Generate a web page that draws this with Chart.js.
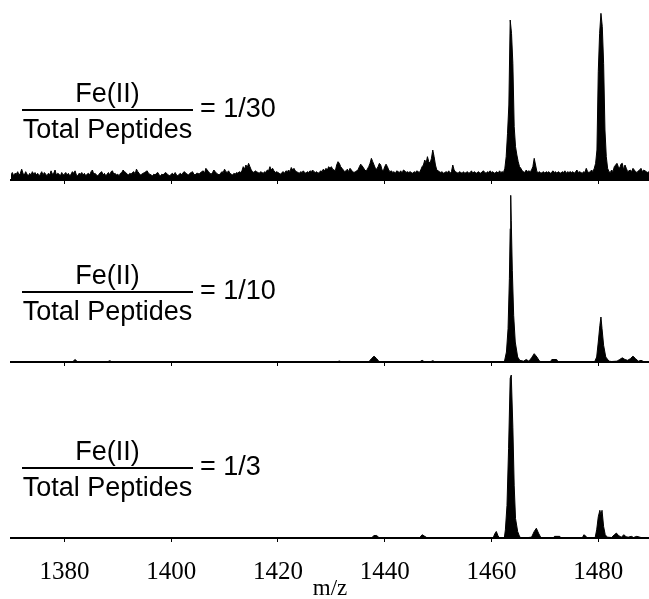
<!DOCTYPE html>
<html>
<head>
<meta charset="utf-8">
<script src="https://cdn.jsdelivr.net/npm/chart.js@4.4.1/dist/chart.umd.min.js"></script>
<style>
  html, body { margin: 0; padding: 0; background: #fff; }
  #wrap { position: relative; width: 649px; height: 599px; overflow: hidden; }
  canvas { position: absolute; left: 0; }
</style>
</head>
<body>
<div id="wrap">
  <canvas id="p1" width="649" height="184" style="top:0px"></canvas>
  <canvas id="p2" width="649" height="184" style="top:182px"></canvas>
  <canvas id="p3" width="649" height="241" style="top:362px"></canvas>
</div>
<script>
// --- data ---
const MZ_START = 1370;
const MZ_END = 1489.5;
const MZ_STEP = 0.25;
const X_TICKS = [1380, 1400, 1420, 1440, 1460, 1480];
const RATIOS = ["1/30", "1/10", "1/3"];

// Fe(II)/peptides = 1/30, sampled every 0.25 m/z from 1370 (relative intensity), 5 m/z per row
const INT_30 = [
  3, 4.5, 2.5, 4, 3.5, 5, 3, 4, 6.5, 4, 3, 5, 3.5, 2.5, 4, 3, 5, 3.5, 4.5, 3,
  4, 2.5, 3.5, 5, 3, 4.5, 3.5, 2.5, 4, 3, 5.5, 3.5, 4, 6, 3, 4, 3.5, 2.5, 4.5, 3,
  3.5, 4.5, 3, 4, 2.5, 3.5, 5, 4, 5.5, 3, 2.5, 4, 3.5, 4.5, 3, 4, 2.5, 3.5, 4, 3,
  5, 6, 3.5, 4, 3, 2.5, 3.5, 4.5, 5, 3, 4, 2.5, 3.5, 4.5, 3, 5, 5.5, 3.5, 4, 3,
  3.5, 2.5, 4, 4.5, 6, 5, 4.5, 3.5, 3, 4, 3.5, 4.5, 5, 3.5, 6.5, 5, 4, 3, 3.5, 4,
  4.5, 5, 5.5, 4, 3.5, 3, 2.5, 3.5, 3, 4, 4.5, 3, 2.5, 3.5, 3, 4, 4.5, 3.5, 3, 2.5,
  3.5, 4, 3, 4.5, 3, 2.5, 3.5, 4, 3, 4.5, 5, 4, 3.5, 3, 4, 4.5, 5, 3.5, 3, 4,
  4, 3.5, 4.5, 5, 5.5, 4, 7, 6, 5, 4, 3.5, 4.5, 6, 5, 4, 3.5, 3, 4, 5, 4.5,
  6.5, 5, 4.5, 5.5, 4, 3.5, 3, 4, 3.5, 4.5, 4, 5, 4.5, 5.5, 8, 6.5, 9, 7.5, 10, 8,
  6, 5, 4.5, 5.5, 5, 4.5, 4, 5, 4.5, 4, 5, 4.5, 6, 5.5, 8, 6, 7, 5.5, 4.5, 5,
  4.5, 4, 3.5, 4.5, 5, 4, 5.5, 5, 6, 5, 7.5, 6, 7, 5.5, 5, 4.5, 4, 5, 4.5, 5.5,
  4.5, 4, 5, 4.5, 5.5, 5, 6, 5, 4.5, 5, 4, 4.5, 5.5, 5, 6.5, 5.5, 7, 6, 8, 7,
  8, 6.5, 6, 5.5, 9, 11, 10, 8, 7, 6, 5, 5.5, 6.5, 5, 7, 6, 5, 4.5, 5, 5.5,
  6, 8, 9.5, 8.5, 7.5, 6, 5.5, 6.5, 8, 10, 13, 11, 9, 7, 6.5, 8, 10, 9, 6, 5.5,
  8, 9.5, 8, 6, 5, 5.5, 4.5, 5, 4, 5.5, 5, 4.5, 5.5, 4, 6, 5.5, 4.5, 5, 4.5, 5,
  4.5, 4, 5, 4.5, 5.5, 5, 4.5, 6, 8, 9, 12, 10, 14, 11, 10, 13, 18, 14, 9, 6,
  5.5, 5, 4.5, 5, 4, 4.5, 5, 4.5, 5.5, 4, 5, 9, 6, 5, 4.5, 4, 5, 4.5, 4, 5,
  4, 4.5, 5, 4, 4.5, 5.5, 4, 5, 4.5, 4, 5, 4.5, 4, 5, 5.5, 4.5, 4, 5, 4.5, 5.5,
  4.5, 5, 4, 4.5, 5, 4, 5.5, 4.5, 5, 4.5, 7, 14, 28, 45, 96, 88, 70, 32, 20, 15,
  11, 8, 7, 5.5, 5, 4.5, 6, 5, 5.5, 5, 6, 8, 13, 9, 5, 4.5, 5, 4, 4.5, 5,
  4, 5, 4.5, 5, 4, 4.5, 5.5, 4.5, 5, 4, 5, 4.5, 4, 5, 4.5, 5.5, 4, 5, 4.5, 5,
  4.5, 5, 4, 5, 6, 4.5, 5, 4.5, 4, 5, 4.5, 7, 5, 4.5, 5, 6, 5, 7, 10, 18,
  65, 88, 100, 92, 70, 30, 14, 7, 5, 4.5, 6, 5, 8, 9, 10, 8, 7, 9.5, 10, 6,
  9, 7, 5, 5.5, 6, 5, 7, 6, 5, 4.5, 5.5, 6, 7, 5, 6, 5.5, 5, 4.5, 5, 5.5
];

// Fe(II)/peptides = 1/10, [m/z, relative intensity]
const PEAKS_10 = [
  [1370, 0], [1381.5, 0], [1382, 1.5], [1382.5, 0], [1388, 0], [1388.5, 0.8], [1389, 0],
  [1431, 0], [1431.5, 0.6], [1432, 0], [1437, 0], [1437.5, 2], [1438, 3.5], [1438.5, 2], [1439, 0],
  [1446.5, 0], [1447, 1], [1447.5, 0], [1448.5, 0], [1449, 0.8], [1449.5, 0],
  [1462.4, 0], [1462.8, 6], [1463.1, 20], [1463.35, 50], [1463.5, 80], [1463.6, 100], [1463.7, 85],
  [1463.9, 55], [1464.15, 28], [1464.45, 12], [1464.9, 3], [1465.3, 1], [1466, 0.5], [1466.5, 1.5],
  [1467, 0.5], [1467.5, 2.5], [1468, 5], [1468.5, 3], [1469, 0.5], [1469.5, 0],
  [1471, 0], [1471.3, 1.5], [1472.2, 1.5], [1472.5, 0],
  [1479.3, 0], [1479.7, 3], [1480, 12], [1480.3, 22], [1480.5, 27], [1480.7, 20], [1481, 10],
  [1481.4, 3], [1482, 0.5], [1482.5, 0.3], [1483.5, 0.5], [1484, 1.5], [1484.5, 2.5], [1485, 1.5],
  [1485.5, 1], [1486, 2], [1486.5, 3.5], [1487, 2], [1487.5, 0.5], [1488, 1], [1488.5, 0.3], [1490, 0]
];

// Fe(II)/peptides = 1/3, [m/z, relative intensity]
const PEAKS_3 = [
  [1370, 0], [1437.5, 0], [1438, 1.5], [1438.5, 1.5], [1439, 0],
  [1446.5, 0], [1447, 2], [1447.5, 1], [1448, 0],
  [1460.3, 0], [1460.6, 2.5], [1460.9, 4], [1461.2, 1.5], [1461.5, 0],
  [1462.4, 0], [1462.6, 5], [1462.9, 20], [1463.2, 55], [1463.5, 98], [1463.7, 100], [1464, 68],
  [1464.25, 32], [1464.5, 12], [1464.9, 4], [1465.3, 0.5], [1466, 0],
  [1467.5, 0.5], [1468, 4], [1468.4, 6], [1468.8, 3], [1469.2, 0.5], [1469.5, 0],
  [1471.5, 0], [1471.8, 1], [1472.8, 1], [1473, 0], [1477, 0], [1477.3, 2], [1477.7, 1], [1478, 0],
  [1479.4, 0], [1479.7, 5], [1480, 13], [1480.3, 17], [1480.5, 14], [1480.7, 17], [1481, 7],
  [1481.3, 2], [1481.7, 0.5], [1482.5, 0.3], [1483, 2], [1483.4, 3], [1483.8, 1.5], [1484.3, 0.5],
  [1484.8, 2], [1485.2, 0.8], [1485.6, 0.5], [1486.2, 1], [1486.6, 0.3], [1487.2, 1], [1488, 0.3], [1490, 0]
];

const Y_MAX = 108;

// fraction label "Fe(II) / Total Peptides = ratio", placed from the baseline
const fractionLabel = {
  id: "fractionLabel",
  afterDraw(chart, args, opts) {
    const ctx = chart.ctx;
    const b = chart.chartArea.bottom;
    ctx.save();
    ctx.fillStyle = "#000";
    ctx.font = '27px "Liberation Sans", Arial, sans-serif';
    ctx.textBaseline = "alphabetic";
    ctx.textAlign = "center";
    ctx.fillText("Fe(II)", 107.5, b - 78);
    ctx.fillText("Total Peptides", 107.5, b - 42);
    ctx.fillRect(22, b - 71, 171, 2);
    ctx.textAlign = "left";
    ctx.fillText("= " + opts.ratio, 200, b - 63);
    ctx.restore();
  },
};

function makePanel(id, points, ratio, axisHeight, showLabels) {
  const ctx = document.getElementById(id).getContext("2d");
  return new Chart(ctx, {
    type: "line",
    data: {
      datasets: [
        {
          data: points,
          borderColor: "#000",
          backgroundColor: "#000",
          borderWidth: 1,
          pointRadius: 0,
          tension: 0,
          fill: "origin",
        },
      ],
    },
    options: {
      responsive: false,
      animation: false,
      events: [],
      layout: { padding: { left: 11, right: 0, top: 0, bottom: 0 } },
      plugins: {
        legend: { display: false },
        tooltip: { enabled: false },
        fractionLabel: { ratio: ratio },
      },
      scales: {
        x: {
          type: "linear",
          min: MZ_START,
          max: MZ_END,
          afterBuildTicks: (axis) => {
            axis.ticks = X_TICKS.map((v) => ({ value: v }));
          },
          afterFit: (axis) => {
            axis.height = axisHeight;
          },
          grid: {
            drawOnChartArea: false,
            drawTicks: true,
            tickLength: 4,
            color: "#000",
            lineWidth: 1,
          },
          border: { display: true, color: "#000", width: 2 },
          ticks: {
            display: showLabels,
            color: "#000",
            padding: 15,
            callback: (v) => String(v),
            font: { family: '"Liberation Serif", "Times New Roman", serif', size: 25 },
          },
          title: {
            display: showLabels,
            text: "m/z",
            color: "#000",
            padding: { top: 0, bottom: 0 },
            font: { family: '"Liberation Serif", "Times New Roman", serif', size: 23 },
          },
        },
        y: { display: false, min: 0, max: Y_MAX },
      },
    },
    plugins: [fractionLabel],
  });
}

const pts30 = INT_30.map((v, i) => ({ x: MZ_START + i * MZ_STEP, y: v }));
const pts10 = PEAKS_10.map((p) => ({ x: p[0], y: p[1] }));
const pts3 = PEAKS_3.map((p) => ({ x: p[0], y: p[1] }));

makePanel("p1", pts30, RATIOS[0], 4, false);
makePanel("p2", pts10, RATIOS[1], 4, false);
makePanel("p3", pts3, RATIOS[2], 65, true);
</script>
</body>
</html>
